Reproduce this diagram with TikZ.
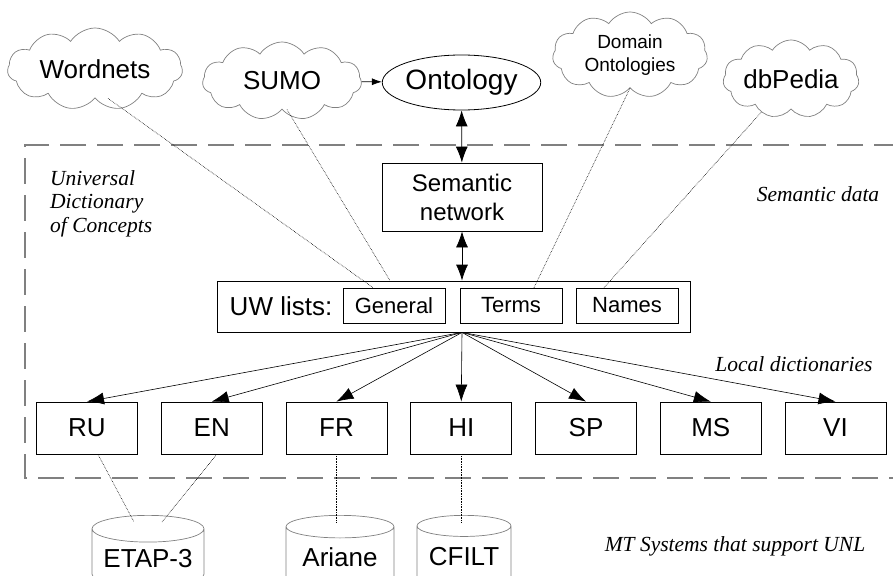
\documentclass[tikz,border=0pt]{standalone}
\usepackage{fontspec}
\setmainfont{Liberation Serif}
\setsansfont{Liberation Sans}
\usetikzlibrary{shapes.symbols,shapes.geometric,arrows.meta,positioning}
\newcommand{\bigSans}{\sffamily\fontsize{26}{30}\selectfont}
\newcommand{\midSans}{\sffamily\fontsize{22}{26}\selectfont}
\newcommand{\areaNote}{\rmfamily\itshape\fontsize{21.5}{23.5}\selectfont}

\begin{document}
\begin{tikzpicture}[x=1pt,y=-1pt,
			wordCloud/.style={cloud, cloud puffs=11, cloud puff arc=115, cloud ignores aspect, draw=gray, line width=0.7pt, inner sep=0pt, align=center, font=\bigSans},
			ontoEll/.style={ellipse, draw, line width=0.8pt, inner sep=0pt, minimum width=135pt, minimum height=55pt, font=\sffamily\fontsize{28}{32}\selectfont},
			semBox/.style={shape=rectangle, draw, line width=0.8pt, align=center, minimum width=160pt, minimum height=68pt, font=\sffamily\fontsize{24}{29}\selectfont},
			uwBox/.style={shape=rectangle, draw, line width=0.8pt, minimum width=473pt, minimum height=51pt},
			listBox/.style={shape=rectangle, draw, line width=0.7pt, minimum width=102pt, minimum height=35pt, inner sep=0pt, font=\midSans},
			langBox/.style={shape=rectangle, draw, line width=0.8pt, minimum width=101pt, minimum height=52pt, inner sep=0pt, font=\bigSans},
			mtSystem/.style={cylinder, shape border rotate=90, draw=gray, line width=0.7pt, aspect=0.3, minimum width=110pt, minimum height=72pt, inner sep=0pt, font=\bigSans},
			fanArrow/.style={-{Latex[length=17pt,width=12pt]}, line width=0.6pt},
			twoWay/.style={{Latex[length=16pt,width=12pt]}-{Latex[length=16pt,width=12pt]}, line width=0.8pt},
			dotLink/.style={densely dotted, line width=0.6pt},
			regionEdge/.style={draw=gray, line width=1.4pt, dash pattern=on 26pt off 11pt},
			areaLabel/.style={font=\areaNote, inner sep=0pt}]
\useasboundingbox (0,0) rectangle (893,575);
\draw[regionEdge] (900,145) -- (25,145) -- (25,478) -- (900,478);

\node[wordCloud, minimum width=175pt, minimum height=82pt] (wordnets) at (95,69) {Wordnets};
\node[wordCloud, minimum width=159pt, minimum height=78pt] (sumo) at (282,81) {SUMO};
\node[wordCloud, minimum width=155pt, minimum height=86pt, font=\sffamily\fontsize{19}{23}\selectfont] (domain) at (630,55) {Domain\\Ontologies};
\node[wordCloud, minimum width=136pt, minimum height=78pt] (dbpedia) at (791,79) {dbPedia};
\node[ontoEll] (onto) at (461.5,82.5) {Ontology};
\node[semBox] (sem) at (462,197) {Semantic\\network};

\node[uwBox] (uw) at (454,306.5) {};
\node[font=\bigSans, inner sep=0pt] (uwlabel) at (281,306.5) {UW lists:};
\node[listBox] (general) at (394,305.5) {General};
\node[listBox] (terms) at (511,305.5) {Terms};
\node[listBox] (names) at (627,305.5) {Names};
\coordinate (fan) at (sem |- uw.south);

\node[langBox] (ru) at (87,428) {RU};
\node[langBox] (en) at (211.75,428) {EN};
\node[langBox] (fr) at (336.5,428) {FR};
\node[langBox] (hi) at (461.25,428) {HI};
\node[langBox] (sp) at (586,428) {SP};
\node[langBox] (ms) at (710.75,428) {MS};
\node[langBox] (vi) at (835.5,428) {VI};

\node[mtSystem, minimum width=112pt, anchor=north] (etap) at (148,515) {ETAP-3};
\node[mtSystem, minimum width=108pt, anchor=north] (ariane) at (340,515) {Ariane};
\node[mtSystem, minimum width=94pt, anchor=north] (cfilt) at (464,515) {CFILT};

\node[areaLabel, align=left, anchor=north west] (udc) at (50,170) {Universal\\Dictionary\\of Concepts};
\node[areaLabel, anchor=base] (semdata) at (818,201) {Semantic data};
\node[areaLabel, anchor=base] (localdict) at (794,371) {Local dictionaries};
\node[areaLabel, anchor=base] (mtsys) at (735,551) {MT Systems that support UNL};

\draw[-{Latex[length=10pt,width=7pt]}, line width=0.7pt] (sumo) -- (onto);
\draw[twoWay] (onto) -- (sem);
\draw[twoWay] (sem) -- (sem |- uw.north);
\foreach \lang in {ru,en,fr,hi,sp,ms,vi}
  \draw[fanArrow] (fan) -- (\lang.north);

\draw[dotLink] ([xshift=13pt]wordnets.south) -- ([xshift=-21pt]general.north);
\draw[dotLink] ([xshift=5pt]sumo.south) -- ([xshift=-64pt]uw.north);
\draw[dotLink] (domain.south) -- ([xshift=23pt]terms.north);
\draw[dotLink] (dbpedia) -- ([xshift=-23pt]names.north);
\draw[dotLink] ([xshift=11pt]ru.south) -- ([xshift=-14pt,yshift=-7pt]etap.top);
\draw[dotLink] ([xshift=5pt]en.south) -- ([xshift=14pt,yshift=-7pt]etap.top);
\draw[dotLink] (fr.south) -- ([yshift=-7pt]ariane.top -| fr.south);
\draw[dotLink] (hi.south) -- ([yshift=-7pt]cfilt.top -| hi.south);
\end{tikzpicture}
\end{document}
